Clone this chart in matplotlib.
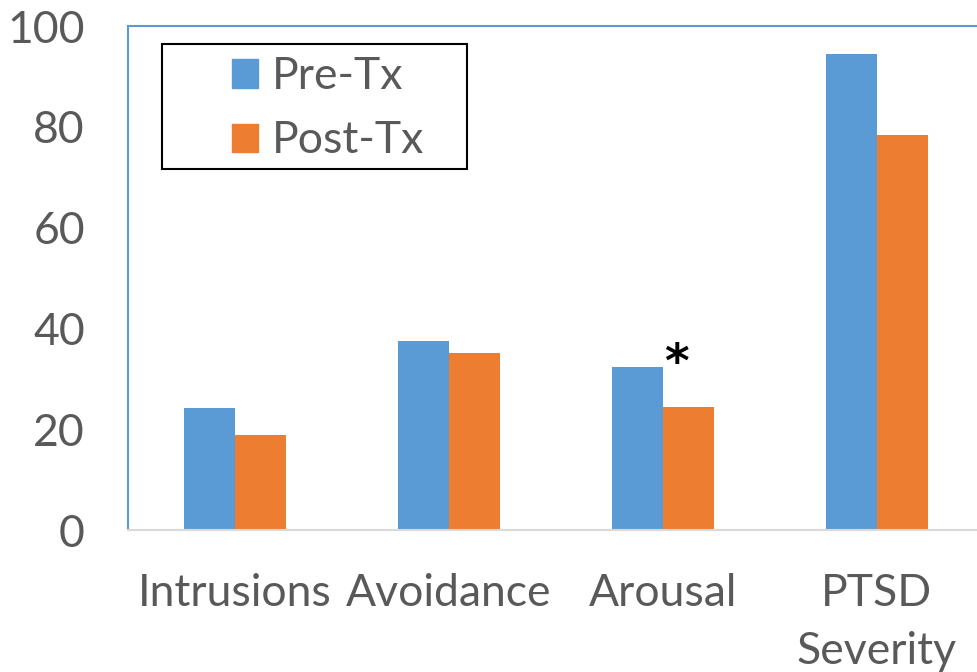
import matplotlib as mpl
mpl.use("Agg")
import matplotlib.pyplot as plt
from matplotlib.patches import Patch, Rectangle
import numpy as np

mpl.rcParams['font.family'] = ['Lato', 'DejaVu Sans']

categories = ["Intrusions", "Avoidance", "Arousal", "PTSD\nSeverity"]
pre_tx = [24.3, 37.6, 32.4, 94.4]
post_tx = [18.8, 35.2, 24.4, 78.3]
series_names = ["Pre-Tx", "Post-Tx"]
yticks = [0, 20, 40, 60, 80, 100]

blue = "#5B9BD5"
orange = "#ED7D31"
grey_text = "#595959"
fs = 32

fig = plt.figure(figsize=(9.77, 6.72), dpi=100)
ax = fig.add_axes([0.131, 0.2113, 0.876, 0.75])

x = np.arange(len(categories))
w = 0.24
ax.bar(x - w / 2, pre_tx, w, color=blue)
ax.bar(x + w / 2, post_tx, w, color=orange)

ax.set_xlim(-0.5, len(categories) - 0.5)
ax.set_ylim(0, 100)
ax.set_yticks(yticks)
ax.set_xticks(x)
ax.set_xticklabels(categories, linespacing=1.5)
ax.tick_params(axis='both', length=0, labelsize=fs, labelcolor=grey_text)
ax.tick_params(axis='y', pad=31)
ax.tick_params(axis='x', pad=31)

for side in ("left", "top"):
    ax.spines[side].set_color(blue)
    ax.spines[side].set_linewidth(1.5)
ax.spines["right"].set_visible(False)
ax.spines["bottom"].set_color("#D9D9D9")
ax.spines["bottom"].set_linewidth(1.5)

# significance marker on Arousal
ax.text(2.065, post_tx[2] + 8.5, "*", ha='center', va='center',
        fontsize=34, fontweight='bold', color='black', family='DejaVu Sans')

# legend with a hand-drawn box
ax.add_patch(Rectangle((0.0397, 0.716), 0.3563, 0.248, transform=ax.transAxes,
                       fill=False, edgecolor='black', linewidth=1.5, zorder=5))
handles = [Patch(color=blue), Patch(color=orange)]
leg = ax.legend(handles, series_names, loc='upper left',
                bbox_to_anchor=(0.121, 0.94), frameon=False, fontsize=fs,
                handlelength=0.6, handleheight=0.6, handletextpad=0.3,
                labelspacing=0.52, borderpad=0, borderaxespad=0)
for t in leg.get_texts():
    t.set_color(grey_text)

fig.savefig("out.png", dpi=100)
